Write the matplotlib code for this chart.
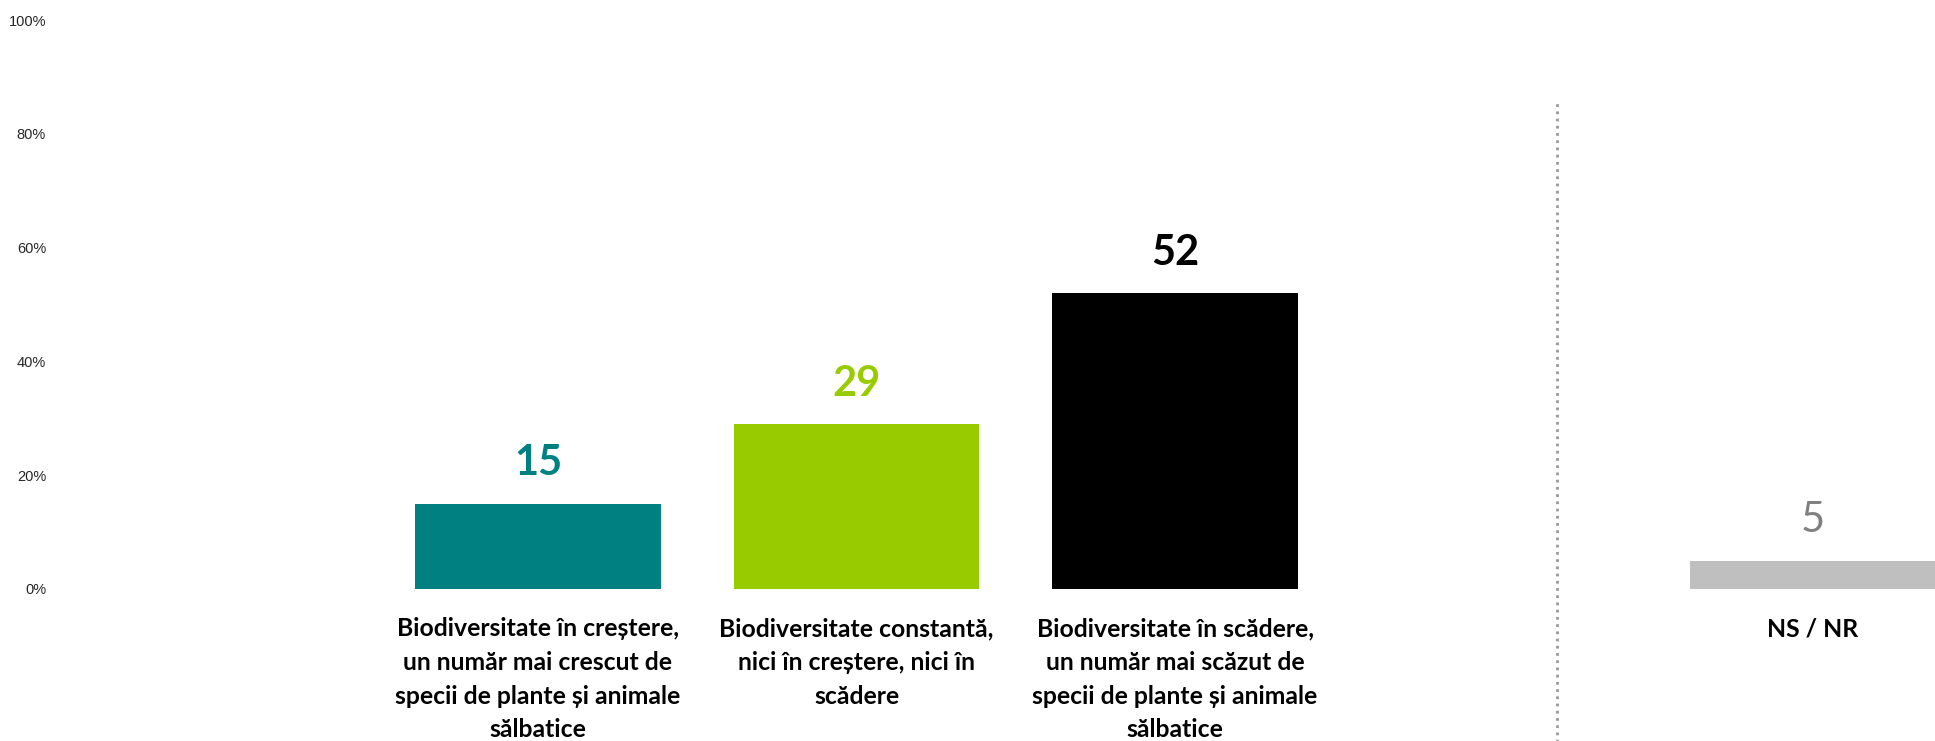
import matplotlib.pyplot as plt

categories = [
    "Biodiversitate în creștere,\nun număr mai crescut de\nspecii de plante și animale\nsălbatice",
    "Biodiversitate constantă,\nnici în creștere, nici în\nscădere",
    "Biodiversitate în scădere,\nun număr mai scăzut de\nspecii de plante și animale\nsălbatice",
    "NS / NR",
]
values = [15, 29, 52, 5]
positions = [0, 1, 2, 4]
bar_colors = ["#008080", "#99CC00", "#000000", "#BFBFBF"]
label_colors = ["#008080", "#99CC00", "#000000", "#808080"]
label_weights = ["bold", "bold", "bold", "normal"]
y_ticks = [0, 20, 40, 60, 80, 100]

fig = plt.figure(figsize=(19.35, 7.41), dpi=100)
ax = fig.add_axes([60 / 1935, 152 / 741, 1 - 60 / 1935, 569 / 741])

ax.bar(positions, values, width=0.77, color=bar_colors)

for x, v, c, w in zip(positions, values, label_colors, label_weights):
    ax.text(x, v + 5, str(v), ha="center", va="baseline", fontsize=30,
            fontweight=w, color=c, family="Lato")

trans = ax.get_xaxis_transform()
for x, lab in zip(positions, categories):
    ax.text(x, -0.05, lab, transform=trans, ha="center", va="top",
            fontsize=17.8, fontweight="bold", family="Lato", linespacing=1.56,
            clip_on=False)

# dotted separator before NS / NR
ax.plot([3.2, 3.2], [-0.27, 0.86], transform=trans, color="#999999",
        linestyle=(0, (1, 1.6)), linewidth=2, clip_on=False)

ax.set_xlim(-1.5, 4.385)
ax.set_ylim(0, 100)
ax.set_yticks(y_ticks)
ax.set_yticklabels([f"{t}%" for t in y_ticks], fontsize=10.5, color="#262626",
                   family="Liberation Sans")
ax.tick_params(axis="y", length=0, pad=10)
ax.set_xticks([])
for s in ax.spines.values():
    s.set_visible(False)

fig.savefig("out.png", dpi=100)
